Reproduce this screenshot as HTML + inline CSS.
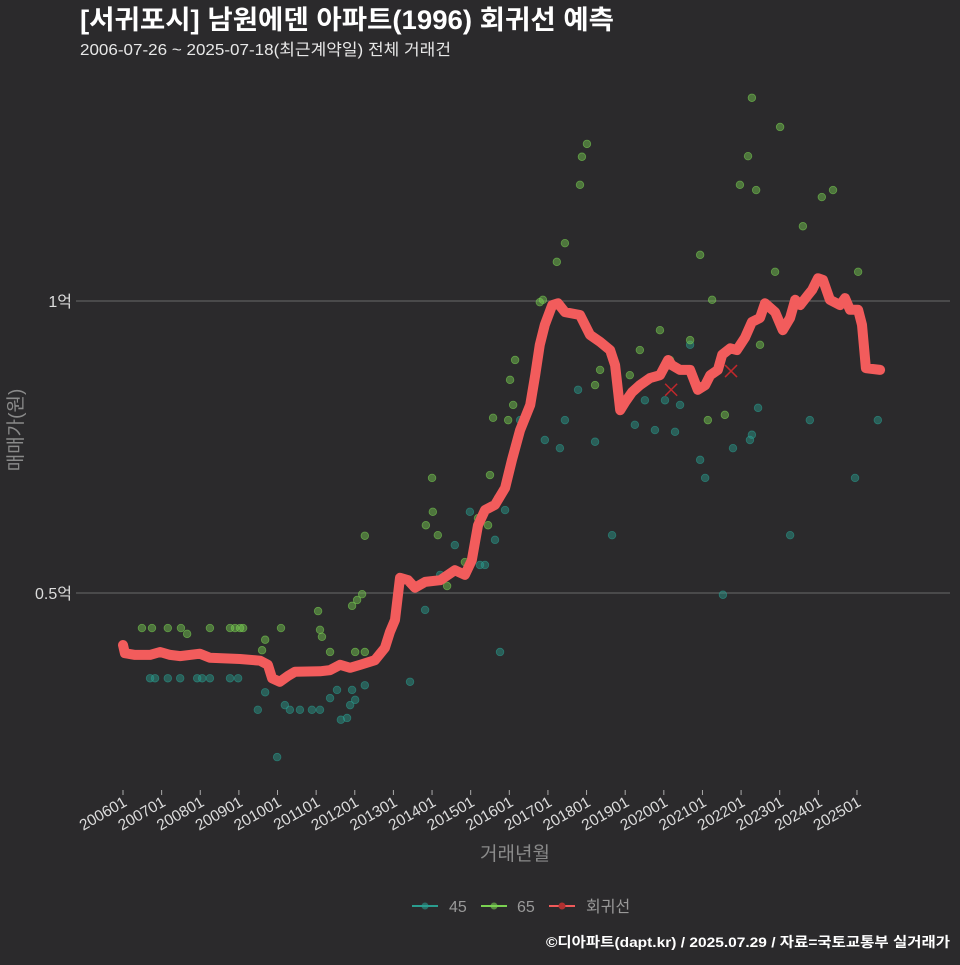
<!DOCTYPE html>
<html><head><meta charset="utf-8"><style>
html,body{margin:0;padding:0;background:#2b2a2c;}
svg text{font-family:"Liberation Sans","Noto Sans CJK KR",sans-serif;}
</style></head><body>
<svg id="chart" width="960" height="960" viewBox="0 0 960 960" xmlns="http://www.w3.org/2000/svg">
<rect x="0" y="0" width="960" height="960" fill="#2b2a2c"/>
<text x="80" y="29" font-size="26.5" font-weight="bold" fill="#ffffff" textLength="534" lengthAdjust="spacingAndGlyphs">[서귀포시] 남원에덴 아파트(1996) 회귀선 예측</text>
<text x="80" y="55" font-size="16" fill="#e8e8e8" textLength="371" lengthAdjust="spacingAndGlyphs">2006-07-26 ~ 2025-07-18(최근계약일) 전체 거래건</text>
<g id="grid"></g>
<g id="xaxis"></g>
<g id="pts"></g>
<g id="line"></g>
<text transform="translate(22,430) rotate(-90)" text-anchor="middle" font-size="19" fill="#8a8a8a">매매가(원)</text>
<text x="515" y="860" text-anchor="middle" font-size="19" fill="#8a8a8a">거래년월</text>
<g>
 <g><line x1="412" y1="906" x2="438" y2="906" stroke="#2a9d8f" stroke-width="2"/><circle cx="425" cy="906" r="3.5" fill="#2a9d8f" opacity="0.6"/><text x="449" y="912" font-size="16" fill="#999">45</text></g>
 <g><line x1="481" y1="906" x2="507" y2="906" stroke="#7ad151" stroke-width="2"/><circle cx="494" cy="906" r="3.5" fill="#7ad151" opacity="0.6"/><text x="517" y="912" font-size="16" fill="#999">65</text></g>
 <g><line x1="549" y1="906" x2="575" y2="906" stroke="#f05a5a" stroke-width="2"/><circle cx="562" cy="906" r="3.5" fill="#b03030"/><text x="586" y="912" font-size="16" fill="#999">회귀선</text></g>
</g>
<text x="950" y="947" text-anchor="end" font-size="14" font-weight="bold" fill="#ffffff" textLength="404" lengthAdjust="spacingAndGlyphs">©디아파트(dapt.kr) / 2025.07.29 / 자료=국토교통부 실거래가</text>
</svg>
<script>
const xTickLabels=["200601","200701","200801","200901","201001","201101","201201","201301","201401","201501","201601","201701","201801","201901","202001","202101","202201","202301","202401","202501"];
const xTickYears=[2006,2007,2008,2009,2010,2011,2012,2013,2014,2015,2016,2017,2018,2019,2020,2021,2022,2023,2024,2025];
const yTickValues=[0.5,1.0];
const yTickLabels=["0.5억","1억"];
const lineYears=[2006.0,2006.05,2006.31,2006.70,2006.96,2007.22,2007.48,2007.99,2008.25,2009.03,2009.55,2009.75,2009.86,2010.06,2010.27,2010.45,2011.10,2011.36,2011.62,2011.88,2012.14,2012.52,2012.78,2012.91,2013.04,2013.17,2013.38,2013.56,2013.82,2014.21,2014.59,2014.85,2015.03,2015.19,2015.37,2015.63,2015.89,2016.07,2016.28,2016.54,2016.67,2016.79,2016.92,2017.11,2017.26,2017.44,2017.83,2018.09,2018.35,2018.61,2018.74,2018.87,2019.00,2019.18,2019.38,2019.64,2019.90,2020.11,2020.21,2020.42,2020.68,2020.88,2021.07,2021.20,2021.40,2021.51,2021.72,2021.89,2022.10,2022.28,2022.49,2022.62,2022.88,2023.08,2023.27,2023.40,2023.53,2023.73,2023.84,2023.99,2024.12,2024.30,2024.56,2024.69,2024.82,2025.03,2025.13,2025.23,2025.60];
const lineValues=[0.411,0.397,0.394,0.394,0.399,0.394,0.392,0.396,0.389,0.387,0.384,0.377,0.354,0.348,0.358,0.365,0.366,0.368,0.377,0.372,0.377,0.385,0.406,0.433,0.454,0.526,0.522,0.509,0.519,0.522,0.539,0.531,0.556,0.616,0.642,0.651,0.680,0.728,0.779,0.822,0.873,0.925,0.959,0.993,0.996,0.981,0.976,0.942,0.930,0.916,0.890,0.813,0.827,0.844,0.856,0.868,0.873,0.899,0.890,0.882,0.882,0.848,0.856,0.873,0.882,0.908,0.919,0.916,0.937,0.964,0.971,0.996,0.981,0.950,0.971,1.002,0.993,1.010,1.019,1.039,1.036,1.002,0.993,1.005,0.985,0.985,0.959,0.885,0.882];
const teal45Years=[2006.70,2006.83,2007.16,2007.48,2007.92,2008.05,2008.25,2008.77,2008.98,2009.49,2009.68,2010.19,2010.32,2010.58,2010.89,2011.10,2011.36,2011.54,2011.64,2011.80,2011.88,2011.93,2012.01,2012.26,2009.99,2013.43,2013.82,2014.21,2014.59,2014.98,2015.24,2015.63,2015.89,2015.76,2015.37,2016.28,2016.92,2017.31,2017.44,2017.78,2018.22,2018.66,2019.25,2019.77,2020.29,2020.68,2020.94,2021.07,2021.53,2021.79,2022.23,2022.28,2022.44,2023.27,2023.78,2024.95,2025.54,2019.51,2020.03,2020.42];
const teal45Values=[0.354,0.354,0.354,0.354,0.354,0.354,0.354,0.354,0.354,0.300,0.330,0.308,0.300,0.300,0.300,0.300,0.320,0.334,0.283,0.286,0.308,0.334,0.317,0.342,0.219,0.348,0.471,0.531,0.582,0.639,0.548,0.591,0.642,0.399,0.548,0.796,0.762,0.748,0.796,0.848,0.759,0.599,0.788,0.779,0.776,0.925,0.728,0.697,0.497,0.748,0.762,0.771,0.817,0.599,0.796,0.697,0.796,0.830,0.830,0.822];
const green65Years=[2006.49,2006.75,2007.16,2007.50,2008.25,2008.77,2008.90,2009.03,2009.11,2010.09,2007.66,2009.68,2009.60,2011.05,2011.10,2011.15,2011.36,2011.93,2012.06,2012.01,2012.19,2012.26,2012.26,2013.84,2014.02,2014.00,2014.15,2014.39,2014.85,2015.19,2015.45,2015.50,2015.58,2015.71,2015.97,2016.02,2016.10,2016.15,2016.79,2016.87,2017.05,2017.23,2017.44,2017.83,2017.88,2018.01,2018.22,2018.35,2019.12,2019.38,2019.90,2020.16,2020.68,2020.94,2021.14,2021.25,2021.58,2021.97,2022.18,2022.28,2022.39,2022.88,2023.01,2023.60,2024.09,2024.38,2025.03,2022.49];
const green65Values=[0.440,0.440,0.440,0.440,0.440,0.440,0.440,0.440,0.440,0.440,0.430,0.420,0.402,0.469,0.437,0.425,0.399,0.478,0.488,0.399,0.498,0.598,0.399,0.616,0.639,0.697,0.599,0.512,0.553,0.628,0.616,0.702,0.800,0.663,0.796,0.865,0.822,0.899,0.998,1.002,0.985,1.067,1.099,1.199,1.247,1.269,0.856,0.882,0.873,0.916,0.950,0.899,0.933,1.079,0.796,1.002,0.805,1.199,1.248,1.348,1.190,1.050,1.298,1.128,1.178,1.190,1.050,0.925];
const markYears=[2020.19,2021.74];
const markValues=[0.848,0.880];

const NS="http://www.w3.org/2000/svg";
function xs(t){return 123+(t-2006)*38.63;}
function ys(v){return 593-(v-0.5)*584;}
function mk(tag,attrs,parent){const e=document.createElementNS(NS,tag);for(const k in attrs)e.setAttribute(k,attrs[k]);parent.appendChild(e);return e;}
const grid=document.getElementById('grid'),xa=document.getElementById('xaxis'),pts=document.getElementById('pts'),lg=document.getElementById('line');
yTickValues.forEach((v,i)=>{
 const l=mk('line',{x1:76,x2:950,y1:ys(v),y2:ys(v),stroke:'#6a6a6a','stroke-width':1},grid);
 
 
 const t=mk('text',{x:72,y:ys(v)+6,'text-anchor':'end','font-size':16,fill:'#dcdcdc'},grid);
 t.textContent=yTickLabels[i];
 
 
});
xTickYears.forEach((yr,i)=>{
 const x=xs(yr);
 const l=mk('line',{x1:x,x2:x,y1:790,y2:795,stroke:'#aaa','stroke-width':1},xa);
 
 
 const t=mk('text',{x:x+5,y:805,'text-anchor':'end','font-size':15.5,fill:'#dcdcdc',transform:`rotate(-30 ${x+5} 805)`},xa);
 t.textContent=xTickLabels[i];
 
 
});
teal45Years.forEach((yr,i)=>{
 const c=mk('circle',{cx:xs(yr),cy:ys(teal45Values[i]),r:3.8,fill:'#2a9d8f','fill-opacity':0.45,stroke:'#2a9d8f','stroke-opacity':0.6,'stroke-width':0.8},pts);
 
 
});
green65Years.forEach((yr,i)=>{
 const c=mk('circle',{cx:xs(yr),cy:ys(green65Values[i]),r:3.8,fill:'#7ad151','fill-opacity':0.45,stroke:'#7ad151','stroke-opacity':0.6,'stroke-width':0.8},pts);
 
 
});
const d=lineYears.map((yr,i)=>(i?'L':'M')+xs(yr).toFixed(1)+' '+ys(lineValues[i]).toFixed(1)).join(' ');
const p=mk('path',{d:d,fill:'none',stroke:'#f25c5c','stroke-width':10,'stroke-linejoin':'round','stroke-linecap':'round'},lg);


markYears.forEach((yr,i)=>{
 const x=xs(yr),y=ys(markValues[i]);
 const g=mk('path',{d:`M${x-6} ${y-6}L${x+6} ${y+6}M${x-6} ${y+6}L${x+6} ${y-6}`,stroke:'#c0282c','stroke-width':1.5},lg);
 
 
});
</script>
</body></html>
